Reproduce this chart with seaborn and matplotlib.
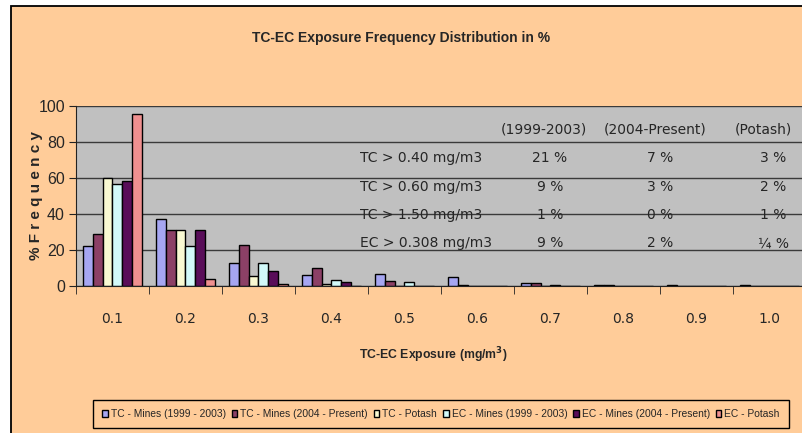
import numpy as np
import pandas as pd
import seaborn as sns
import matplotlib.pyplot as plt
from matplotlib.patches import Rectangle
from matplotlib.transforms import blended_transform_factory

sns.set_style("white")
plt.rcParams['font.family'] = ['DejaVu Sans']

# data
exposure = ['0.1', '0.2', '0.3', '0.4', '0.5', '0.6', '0.7', '0.8', '0.9', '1.0']
tc_mines_99 = [22, 37.3, 13, 6, 6.5, 5.2, 1.5, 0.7, 0.7, 0.7]
tc_mines_04 = [29, 31, 23, 10, 2.8, 0.5, 1.5, 0.7, 0, 0]
tc_potash = [60, 31, 5.5, 1, 0, 0, 0, 0, 0, 0]
ec_mines_99 = [56.5, 22, 13, 3.6, 2, 0, 0.7, 0, 0, 0]
ec_mines_04 = [58.3, 31, 8.3, 2, 0, 0, 0, 0, 0, 0]
ec_potash = [95.5, 3.7, 1, 0, 0, 0, 0, 0, 0, 0]

series_names = ['TC - Mines (1999 - 2003)', 'TC - Mines (2004 - Present)', 'TC - Potash',
                'EC - Mines (1999 - 2003)', 'EC - Mines (2004 - Present)', 'EC - Potash']
series_vals = [tc_mines_99, tc_mines_04, tc_potash, ec_mines_99, ec_mines_04, ec_potash]
colors = ['#9999FF', '#993366', '#FFFFCC', '#CCFFFF', '#660066', '#FF8080']

# summary table shown inside the plot
table_header = ['(1999-2003)', '(2004-Present)', '(Potash)']
table_rows = ['TC > 0.40 mg/m3', 'TC > 0.60 mg/m3', 'TC > 1.50 mg/m3', 'EC > 0.308 mg/m3']
table_9903 = ['21 %', '9 %', '1 %', '9 %']
table_04 = ['7 %', '3 %', '0 %', '2 %']
table_potash = ['3 %', '2 %', '1 %', '¼ %']

df = pd.DataFrame([
    {'Exposure': e, 'Series': name, 'Freq': v}
    for name, vals in zip(series_names, series_vals)
    for e, v in zip(exposure, vals)
])

fig = plt.figure(figsize=(8.03, 4.33), dpi=100)
fig.patch.set_facecolor('white')
W, H = 803, 433
# chart area background with border
fig.add_artist(Rectangle((11 / W, -0.1), 1.2, (H - 6) / H + 0.1, transform=fig.transFigure,
                         facecolor='#FFCC99', edgecolor='black', lw=1.3, zorder=-5))

ax = fig.add_axes([76 / W, 1 - 286 / H, 730 / W, 180 / H])
ax.set_facecolor('#C0C0C0')

sns.barplot(data=df, x='Exposure', y='Freq', hue='Series', hue_order=series_names,
            palette=colors, width=0.82, edgecolor='black', linewidth=1, ax=ax)

ax.set_ylim(0, 100)
ax.set_xlim(-0.5, 9.5)
ax.set_yticks([0, 20, 40, 60, 80, 100])
ax.set_axisbelow(True)
ax.yaxis.grid(True, color='#3a3a3a', lw=1)
for s in ['top', 'right']:
    ax.spines[s].set_visible(False)
ax.spines['left'].set_color('#222222')
ax.spines['bottom'].set_color('#222222')

ax.tick_params(axis='y', left=True, length=5, color='#222222', pad=3)
for lbl in ax.get_yticklabels():
    lbl.set_family(['Liberation Sans'])
    lbl.set_fontsize(11.5)
ax.set_xticks(np.arange(-0.5, 10, 1), minor=True)
ax.tick_params(axis='x', which='major', length=0, pad=19, labelsize=10)
ax.tick_params(axis='x', which='minor', bottom=True, length=6, color='#222222')

ax.set_ylabel('% F r e q u e n c y', fontsize=11, fontweight='bold',
              family=['Liberation Sans', 'DejaVu Sans'])
ax.yaxis.set_label_coords(-0.045, 0.5)
ax.set_xlabel('TC-EC Exposure (mg/m$^\\mathbf{3}$)', fontsize=8.8, fontweight='bold',
              family=['Liberation Sans'])
ax.xaxis.set_label_coords(0.49, -0.33)

# table text
bt = blended_transform_factory(ax.transAxes, ax.transData)
head_x = [0.641, 0.793, 0.941]
col_x = [0.649, 0.80, 0.955]
row_y = [71.0, 55.2, 39.4, 23.7]
for hx, h in zip(head_x, table_header):
    ax.text(hx, 87.2, h, transform=bt, ha='center', va='center', fontsize=10)
for i, r in enumerate(table_rows):
    ax.text(0.389, row_y[i], r, transform=bt, ha='left', va='center', fontsize=10)
    for cx, col in zip(col_x, [table_9903, table_04, table_potash]):
        ax.text(cx, row_y[i], col[i], transform=bt, ha='center', va='center', fontsize=10)

fig.text(401 / W, 1 - 38 / H, 'TC-EC Exposure Frequency Distribution in %', ha='center',
         va='center', fontsize=10, fontweight='bold', family=['Liberation Sans'])

handles, labels = ax.get_legend_handles_labels()
ax.legend_.remove()
leg = fig.legend(handles, labels, loc='center', bbox_to_anchor=(441 / W, 1 - 414 / H), ncol=6,
                 frameon=True, fancybox=False, edgecolor='black', facecolor='#FFCC99',
                 framealpha=1, handlelength=0.55, handleheight=0.75, handletextpad=0.3,
                 columnspacing=0.55, borderpad=0.85, borderaxespad=0,
                 prop={'family': ['Liberation Sans'], 'size': 7.4})
leg.get_frame().set_linewidth(1)

fig.savefig('out.png', dpi=100)
